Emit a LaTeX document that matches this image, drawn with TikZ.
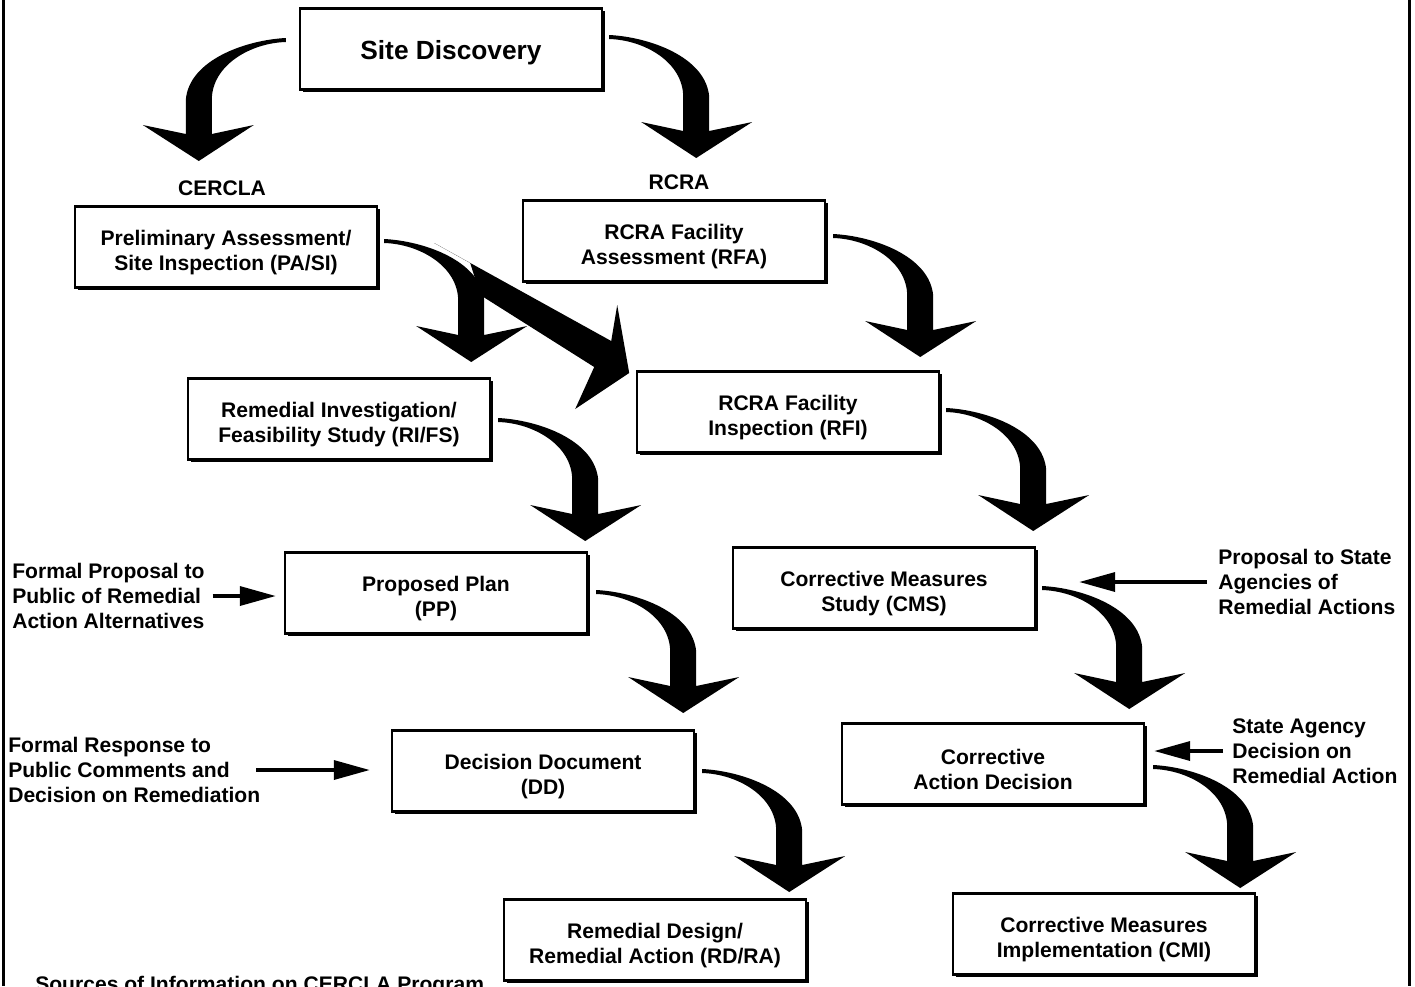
\documentclass[tikz,border=0pt]{standalone}
\usepackage{fontspec}
\setmainfont{Liberation Sans}
\usetikzlibrary{arrows.meta,calc,shadows}

\newcommand\tallrule{\rule{0pt}{19pt}}

\tikzset{
  bendarrow/.pic={
    \fill (0,-2) .. controls (40,0) and (97,20) .. (100,60) -- (100,94) -- (143,85)
      -- (87,121) -- (32,85) -- (74,94) -- (74,60) .. controls (74,25) and (35,3) .. (0,2) -- cycle;
  },
  slantarrow/.pic={
    \fill (50,2) -- (227,100) -- (233,64) -- (245,132) -- (191,168) -- (210,126) -- (96,54) -- (86,22) -- cycle;
  }
}

\begin{document}
\begin{tikzpicture}[x=0.25mm, y=-0.25mm,
  box/.style={draw, line width=0.6mm, fill=white, minimum width=75.5mm, minimum height=20.25mm,
    align=center, font=\bfseries\fontsize{15}{17.8}\selectfont,
    drop shadow={shadow xshift=0.7mm, shadow yshift=-0.7mm, opacity=1, fill=black}},
  lbl/.style={inner sep=0pt, align=left, font=\bfseries\fontsize{15}{17.8}\selectfont},
  feed/.style={line width=0.875mm, -{Triangle[length=9mm, width=4.75mm]}}]

  \useasboundingbox (0,0) rectangle (1415,986);
  \draw [line width=0.75mm] (3,0) -- (3,986);  \draw [line width=0.75mm] (1409,0) -- (1409,986);

  % boxes
  \node[box, font=\bfseries\fontsize{18.7}{22}\selectfont] (disc) at (451,49) {\tallrule Site Discovery};
  \node[box] (pasi) at (226,247) {\tallrule Preliminary Assessment/\\Site Inspection (PA/SI)};
  \node[box] (rfa)  at (674,241) {\tallrule RCRA Facility\\Assessment (RFA)};
  \node[box] (rifs) at (339,419) {\tallrule Remedial Investigation/\\Feasibility Study (RI/FS)};
  \node[box] (rfi)  at (788,412) {\tallrule RCRA Facility\\Inspection (RFI)};
  \node[box] (pp)   at (436,593) {\tallrule Proposed Plan\\(PP)};
  \node[box] (cms)  at (884,588) {\tallrule Corrective Measures\\Study (CMS)};
  \node[box] (dd)   at (543,771) {\tallrule Decision Document\\(DD)};
  \node[box] (cad)  at (993,764) {\tallrule Corrective\\Action Decision};
  \node[box] (rdra) at (655,940) {\tallrule Remedial Design/\\Remedial Action (RD/RA)};
  \node[box] (cmi)  at (1104,934) {\tallrule Corrective Measures\\Implementation (CMI)};

  % labels
  \node[lbl] (cercla) at (222,188) {CERCLA};
  \node[lbl] (rcra) at (679,182) {RCRA};
  \node[lbl, anchor=west] (pubprop) at (12,596) {Formal Proposal to\\Public of Remedial\\Action Alternatives};
  \node[lbl, anchor=west] (respdec) at (8,770) {Formal Response to\\Public Comments and\\Decision on Remediation};
  \node[lbl, anchor=west] (stateprop) at (1218,582) {Proposal to State\\Agencies of\\Remedial Actions};
  \node[lbl, anchor=west] (agencydec) at (1232,751) {State Agency\\Decision on\\Remedial Action};
  \node[lbl, anchor=base west] (srcinfo) at (35,991) {Sources of Information on CERCLA Program};

  % bent arrows
  \pic[xscale=-1] at ($(disc.west)+(-13,-9)$) {bendarrow};
  \pic at ($(disc.east)+(6,-12)$) {bendarrow};
  \pic at ($(pasi.east)+(6,-6)$) {bendarrow};
  \pic at ($(pasi.east)+(6,-6)$) {slantarrow};
  \pic at ($(rfa.east)+(7,-5)$) {bendarrow};
  \pic at ($(rifs.east)+(7,1)$) {bendarrow};
  \pic at ($(rfi.east)+(6,-2)$) {bendarrow};
  \pic at ($(pp.east)+(8,-1)$) {bendarrow};
  \pic at ($(cms.east)+(6,0)$) {bendarrow};
  \pic at ($(dd.east)+(7,0)$) {bendarrow};
  \pic at ($(cad.east)+(8,3)$) {bendarrow};

  % side inputs
  \draw[feed, shorten <=2mm, shorten >=2mm] (pubprop.east) -- (pubprop.east -| pp.west);
  \draw[feed, shorten <=-1mm, shorten >=5.25mm] (respdec.east) -- (respdec.east -| dd.west);
  \draw[feed, shorten <=2.75mm, shorten >=10.75mm] (stateprop.west) -- (stateprop.west -| cms.east);
  \draw[feed, shorten <=2.25mm, shorten >=2.25mm] (agencydec.west) -- (agencydec.west -| cad.east);

\end{tikzpicture}
\end{document}
